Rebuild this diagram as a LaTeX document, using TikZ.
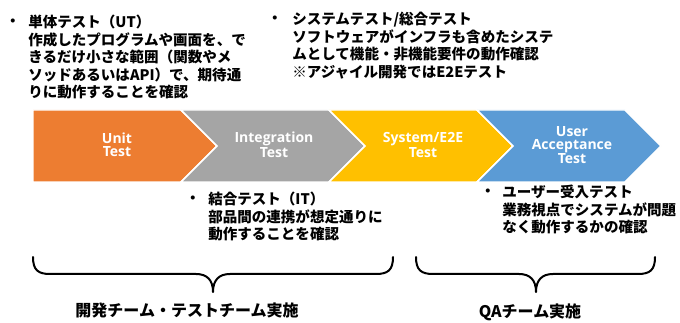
\documentclass[tikz,border=0pt]{standalone}
\usepackage{fontspec}
\newfontfamily\jp{Noto Sans CJK JP}
\newfontfamily\lat{Open Sans}
\definecolor{unitc}{HTML}{ED7D31}
\definecolor{itc}{HTML}{A5A5A5}
\definecolor{stc}{HTML}{FFC000}
\definecolor{uatc}{HTML}{5B9BD5}
\tikzset{
  stage/.style={draw=white, line width=1.1pt, line join=miter},
  stagetext/.style={text=white, inner sep=0, align=center,
    font=\lat\bfseries\fontsize{10.5}{9.8}\selectfont},
  note/.style={anchor=north west, inner sep=0, align=left,
    font=\jp\bfseries\fontsize{10.9}{13.1}\selectfont},
  bullet/.style={inner sep=0, font=\jp\bfseries\fontsize{10.9}{13.1}\selectfont},
  brace/.style={line width=1.5pt, line cap=round, line join=round},
  team/.style={inner sep=0, font=\jp\bfseries\fontsize{12}{14}\selectfont}
}
\begin{document}
\begin{tikzpicture}[x=0.75pt, y=-0.75pt]
\useasboundingbox (0,0) rectangle (680,323);

% process chevrons
\filldraw[stage, fill=unitc] (33,110) -- (181,110) -- (217,146) -- (181,182) -- (33,182) -- cycle;
\filldraw[stage, fill=itc] (181,110) -- (329,110) -- (365,146) -- (329,182) -- (181,182) -- (217,146) -- cycle;
\filldraw[stage, fill=stc] (329,110) -- (477,110) -- (513,146) -- (477,182) -- (329,182) -- (365,146) -- cycle;
\filldraw[stage, fill=uatc] (477,110) -- (625,110) -- (661,146) -- (625,182) -- (477,182) -- (513,146) -- cycle;

\node[stagetext] (unit) at (117,145) {Unit\\Test};
\node[stagetext] (integ) at (274,145) {Integration\\Test};
\node[stagetext] (sys) at (423,145) {System/E2E\\Test};
\node[stagetext] (uat) at (572,145) {User\\Acceptance\\Test};

% descriptions
\node[bullet] (b1) at (13,23) {・};
\node[note] (n1) at (28,15) {単体テスト（UT）\\作成したプログラムや画面を、で\\きるだけ小さな範囲（関数やメ\\ソッドあるいはAPI）で、期待通\\りに動作することを確認};

\node[bullet] (b2) at (275,20) {・};
\node[note] (n2) at (292,12) {システムテスト/総合テスト\\ソフトウェアがインフラも含めたシステ\\ムとして機能・非機能要件の動作確認\\※アジャイル開発ではE2Eテスト};

\node[bullet] (b3) at (193,200) {・};
\node[note] (n3) at (208,192) {結合テスト（IT）\\部品間の連携が想定通りに\\動作することを確認};

\node[bullet] (b4) at (488,193) {・};
\node[note] (n4) at (502,185) {ユーザー受入テスト\\業務視点でシステムが問題\\なく動作するかの確認};

% braces
\coordinate (la) at (33,257);
\coordinate (lt) at (213,292);
\coordinate (lb) at (393,257);
\coordinate (ra) at (416,257);
\coordinate (rt) at (536,292);
\coordinate (rb) at (655,257);
\draw[brace] (la) .. controls (33,270) and (38,274) .. (50,274) -- (196,274)
  .. controls (207,274) and (213,280) .. (lt)
  .. controls (213,280) and (219,274) .. (230,274) -- (376,274)
  .. controls (388,274) and (393,270) .. (lb);
\draw[brace] (ra) .. controls (416,270) and (421,274) .. (433,274) -- (519,274)
  .. controls (530,274) and (536,280) .. (rt)
  .. controls (536,280) and (542,274) .. (553,274) -- (638,274)
  .. controls (650,274) and (655,270) .. (rb);

\node[team] (dev) at (187,310) {開発チーム・テストチーム実施};
\node[team] (qa) at (530,312) {QAチーム実施};
\end{tikzpicture}
\end{document}
